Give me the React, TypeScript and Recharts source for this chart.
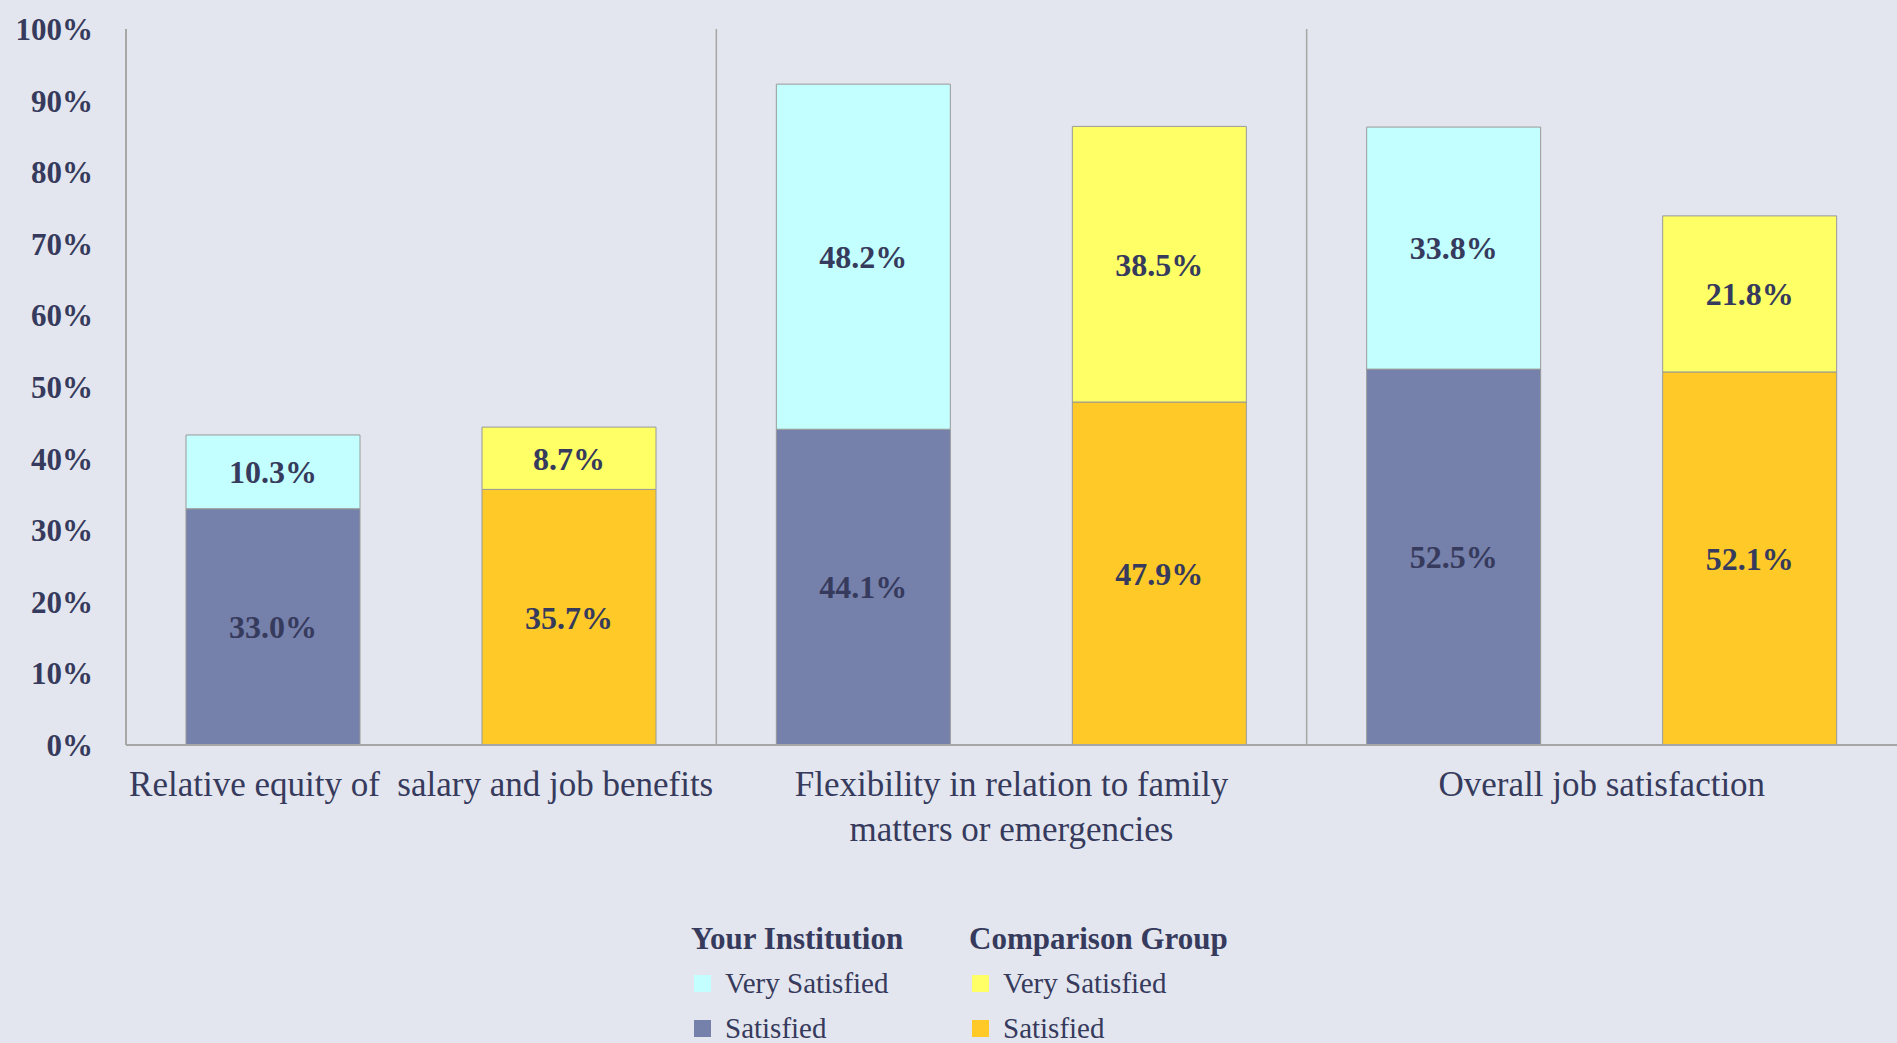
import { BarChart, Bar, XAxis, YAxis, LabelList, ReferenceLine, Legend } from 'recharts';

const categories = [
  'Relative equity of  salary and job benefits',
  'Flexibility in relation to family\nmatters or emergencies',
  'Overall job satisfaction',
];
const instSatisfied = [33.0, 44.1, 52.5];
const instVerySatisfied = [10.3, 48.2, 33.8];
const compSatisfied = [35.7, 47.9, 52.1];
const compVerySatisfied = [8.7, 38.5, 21.8];
const yTicks = [0, 10, 20, 30, 40, 50, 60, 70, 80, 90, 100];
// vertical separators drawn at the start of these categories
const dividers = [categories[1], categories[2]];

const legendGroups = [
  { title: 'Your Institution', items: [{ name: 'Very Satisfied', color: '#c4ffff' }, { name: 'Satisfied', color: '#7580ab' }] },
  { title: 'Comparison Group', items: [{ name: 'Very Satisfied', color: '#ffff66' }, { name: 'Satisfied', color: '#ffca28' }] },
];

const data = categories.map((category, i) => ({
  category,
  instSat: instSatisfied[i],
  instVery: instVerySatisfied[i],
  compSat: compSatisfied[i],
  compVery: compVerySatisfied[i],
}));

const TEXT = '#363a5c';
const FONT = '"Liberation Serif", "Times New Roman", serif';
const AXIS = '#a6a6a6';
const BG = '#e3e6ee';

const CategoryTick = (props: any) => {
  const { x, y, payload } = props;
  const lines = String(payload.value).split('\n');
  return (
    <g transform={`translate(${x},${y})`}>
      <text textAnchor="middle" fill={TEXT} fontSize={35} fontFamily={FONT} style={{ whiteSpace: 'pre' }}>
        {lines.map((l, i) => (
          <tspan key={i} x={0} y={51 + i * 45}>{l}</tspan>
        ))}
      </text>
    </g>
  );
};

const renderLegend = () => (
  <div style={{ position: 'relative', width: 1897, height: 128, fontFamily: FONT, color: TEXT }}>
    {legendGroups.map((g, gi) => (
      <div key={g.title} style={{ position: 'absolute', left: gi === 0 ? 691 : 969, top: 0 }}>
        <div style={{ fontWeight: 700, fontSize: 31, lineHeight: '44px', paddingTop: 2, whiteSpace: 'nowrap' }}>{g.title}</div>
        {g.items.map((it) => (
          <div key={it.name} style={{ display: 'flex', alignItems: 'center', height: 45, fontSize: 29, whiteSpace: 'nowrap' }}>
            <span style={{ display: 'inline-block', width: 17, height: 17, background: it.color, marginLeft: 3, marginRight: 14 }} />
            {it.name}
          </div>
        ))}
      </div>
    ))}
  </div>
);

const pct = (v: any) => `${Number(v).toFixed(1)}%`;
const labelStyle = { fill: TEXT, fontSize: 32, fontWeight: 700, fontFamily: FONT };

export default function App() {
  return (
    <div style={{ position: 'absolute', left: 0, top: 0, width: 1897, height: 1043, background: BG, overflow: 'hidden' }}>
      <BarChart
        width={1897}
        height={1043}
        data={data}
        margin={{ top: 29, right: 0, bottom: 0, left: 0 }}
        barSize={174}
        barGap={122}
      >
        <XAxis
          dataKey="category"
          interval={0}
          height={170}
          tickLine={false}
          tickSize={0}
          tickMargin={0}
          axisLine={{ stroke: AXIS, strokeWidth: 2 }}
          tick={<CategoryTick />}
        />
        <YAxis
          width={126}
          domain={[0, 100]}
          ticks={yTicks}
          interval={0}
          tickFormatter={(v: number) => `${v}%`}
          tickLine={false}
          tickSize={0}
          tickMargin={33}
          axisLine={{ stroke: AXIS, strokeWidth: 2 }}
          tick={{ fill: TEXT, fontSize: 31, fontWeight: 700, fontFamily: FONT }}
        />
        {dividers.map((d) => (
          <ReferenceLine key={d} x={d} position="start" stroke={AXIS} strokeWidth={1.5} />
        ))}
        <Legend verticalAlign="bottom" content={renderLegend} wrapperStyle={{ left: 0, width: 1897 }} />
        <Bar dataKey="instSat" name="Satisfied" stackId="inst" fill="#7580ab" stroke="#999" strokeWidth={1} isAnimationActive={false}>
          <LabelList dataKey="instSat" position="center" formatter={pct} style={labelStyle} />
        </Bar>
        <Bar dataKey="instVery" name="Very Satisfied" stackId="inst" fill="#c4ffff" stroke="#999" strokeWidth={1} isAnimationActive={false}>
          <LabelList dataKey="instVery" position="center" formatter={pct} style={labelStyle} />
        </Bar>
        <Bar dataKey="compSat" name="Satisfied" stackId="comp" fill="#ffca28" stroke="#999" strokeWidth={1} isAnimationActive={false}>
          <LabelList dataKey="compSat" position="center" formatter={pct} style={labelStyle} />
        </Bar>
        <Bar dataKey="compVery" name="Very Satisfied" stackId="comp" fill="#ffff66" stroke="#999" strokeWidth={1} isAnimationActive={false}>
          <LabelList dataKey="compVery" position="center" formatter={pct} style={labelStyle} />
        </Bar>
      </BarChart>
    </div>
  );
}
